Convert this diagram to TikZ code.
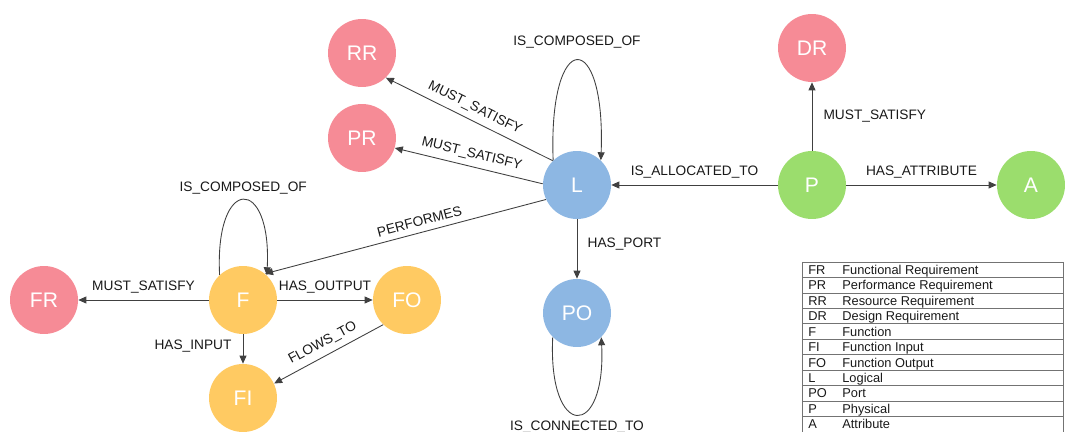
\documentclass[tikz,border=0pt]{standalone}
\usepackage{fontspec}
\setmainfont{Liberation Sans}
\usetikzlibrary{arrows.meta, positioning}
\tikzset{>={Triangle[length=1.6mm, width=1.4mm]}}

\definecolor{reqpink}{RGB}{246,139,150}
\definecolor{logblue}{RGB}{141,183,227}
\definecolor{phygreen}{RGB}{155,221,109}
\definecolor{funyellow}{RGB}{255,202,98}

\tikzset{
  ent/.style={circle, minimum size=1.36cm, inner sep=0pt, text=white,
    font=\fontsize{12}{14}\selectfont},
  rel/.style={->, draw=black!75, line width=0.5pt},
  elabel/.style={font=\fontsize{7.8}{9}\selectfont, text=black!90},
  keytext/.style={font=\fontsize{7.3}{9}\selectfont, inner sep=0pt, text=black!90},
  keyline/.style={draw=black!55, line width=0.4pt}
}

\begin{document}
\begin{tikzpicture}[x=0.02cm, y=0.02cm]
\useasboundingbox (0,0) rectangle (1065,-432);

% requirement nodes
\node[ent, fill=reqpink] (RR) at (362,-53) {RR};
\node[ent, fill=reqpink] (PR) at (362,-138) {PR};
\node[ent, fill=reqpink] (DR) at (812,-48) {DR};
\node[ent, fill=reqpink] (FR) at (44,-300) {FR};

% logical and port
\node[ent, fill=logblue] (L) at (577,-185) {L};
\node[ent, fill=logblue] (PO) at (577,-313) {PO};

% physical
\node[ent, fill=phygreen] (P) at (812,-185) {P};
\node[ent, fill=phygreen] (A) at (1031,-185) {A};

% function
\node[ent, fill=funyellow] (F) at (243,-300) {F};
\node[ent, fill=funyellow] (FO) at (407,-300) {FO};
\node[ent, fill=funyellow] (FI) at (243,-398) {FI};

% relations of L
\draw[rel] (L.135) -- node[elabel, sloped, above] {MUST\_SATISFY} (RR.-46);
\draw[rel] (L.178) -- node[elabel, sloped, above] {MUST\_SATISFY} (PR.-17);
\draw[rel] (L.134) .. controls +(-5,133) and +(5,133) .. (L.46)
  node[elabel, midway, above=3.5pt] {IS\_COMPOSED\_OF};
\draw[rel] (L.205) -- node[elabel, sloped, above, pos=0.44] {PERFORMES} (F.50);
\draw[rel] (L) -- node[elabel, right=2.5pt, pos=0.42] {HAS\_PORT} (PO);
\draw[rel] (PO.225) .. controls +(-5,-103) and +(5,-103) .. (PO.315)
  node[elabel, midway, below] {IS\_CONNECTED\_TO};

% relations of P
\draw[rel] (P) -- node[elabel, above] {IS\_ALLOCATED\_TO} (L);
\draw[rel] (P) -- node[elabel, right=3pt] {MUST\_SATISFY} (DR);
\draw[rel] (P) -- node[elabel, above] {HAS\_ATTRIBUTE} (A);

% relations of F
\draw[rel] (F) -- node[elabel, above] {MUST\_SATISFY} (FR);
\draw[rel] (F) -- node[elabel, above] {HAS\_OUTPUT} (FO);
\draw[rel] (F) -- node[elabel, left=3pt, pos=0.4] {HAS\_INPUT} (FI);
\draw[rel] (FO.226) -- node[elabel, sloped, above] {FLOWS\_TO} (FI.25);
\draw[rel] (F.133) .. controls +(-5,100) and +(5,100) .. (F.46)
  node[elabel, midway, above=0pt] {IS\_COMPOSED\_OF};

% legend table
\draw[keyline] (802,-262) -- (802,-432) (1063.5,-262) -- (1063.5,-432);
\foreach \abbr/\desc [count=\i from 0] in {FR/Functional Requirement,
    PR/Performance Requirement, RR/Resource Requirement, DR/Design Requirement,
    F/Function, FI/Function Input, FO/Function Output, L/Logical, PO/Port,
    P/Physical, A/Attribute} {
  \draw[keyline] (802,-262-15.45*\i) -- (1063.5,-262-15.45*\i);
  \node[keytext, anchor=base west] (key\i) at (808,-274.3-15.45*\i) {\abbr};
  \node[keytext, anchor=base west] (desc\i) at (842,-274.3-15.45*\i) {\desc};
}

\end{tikzpicture}
\end{document}
